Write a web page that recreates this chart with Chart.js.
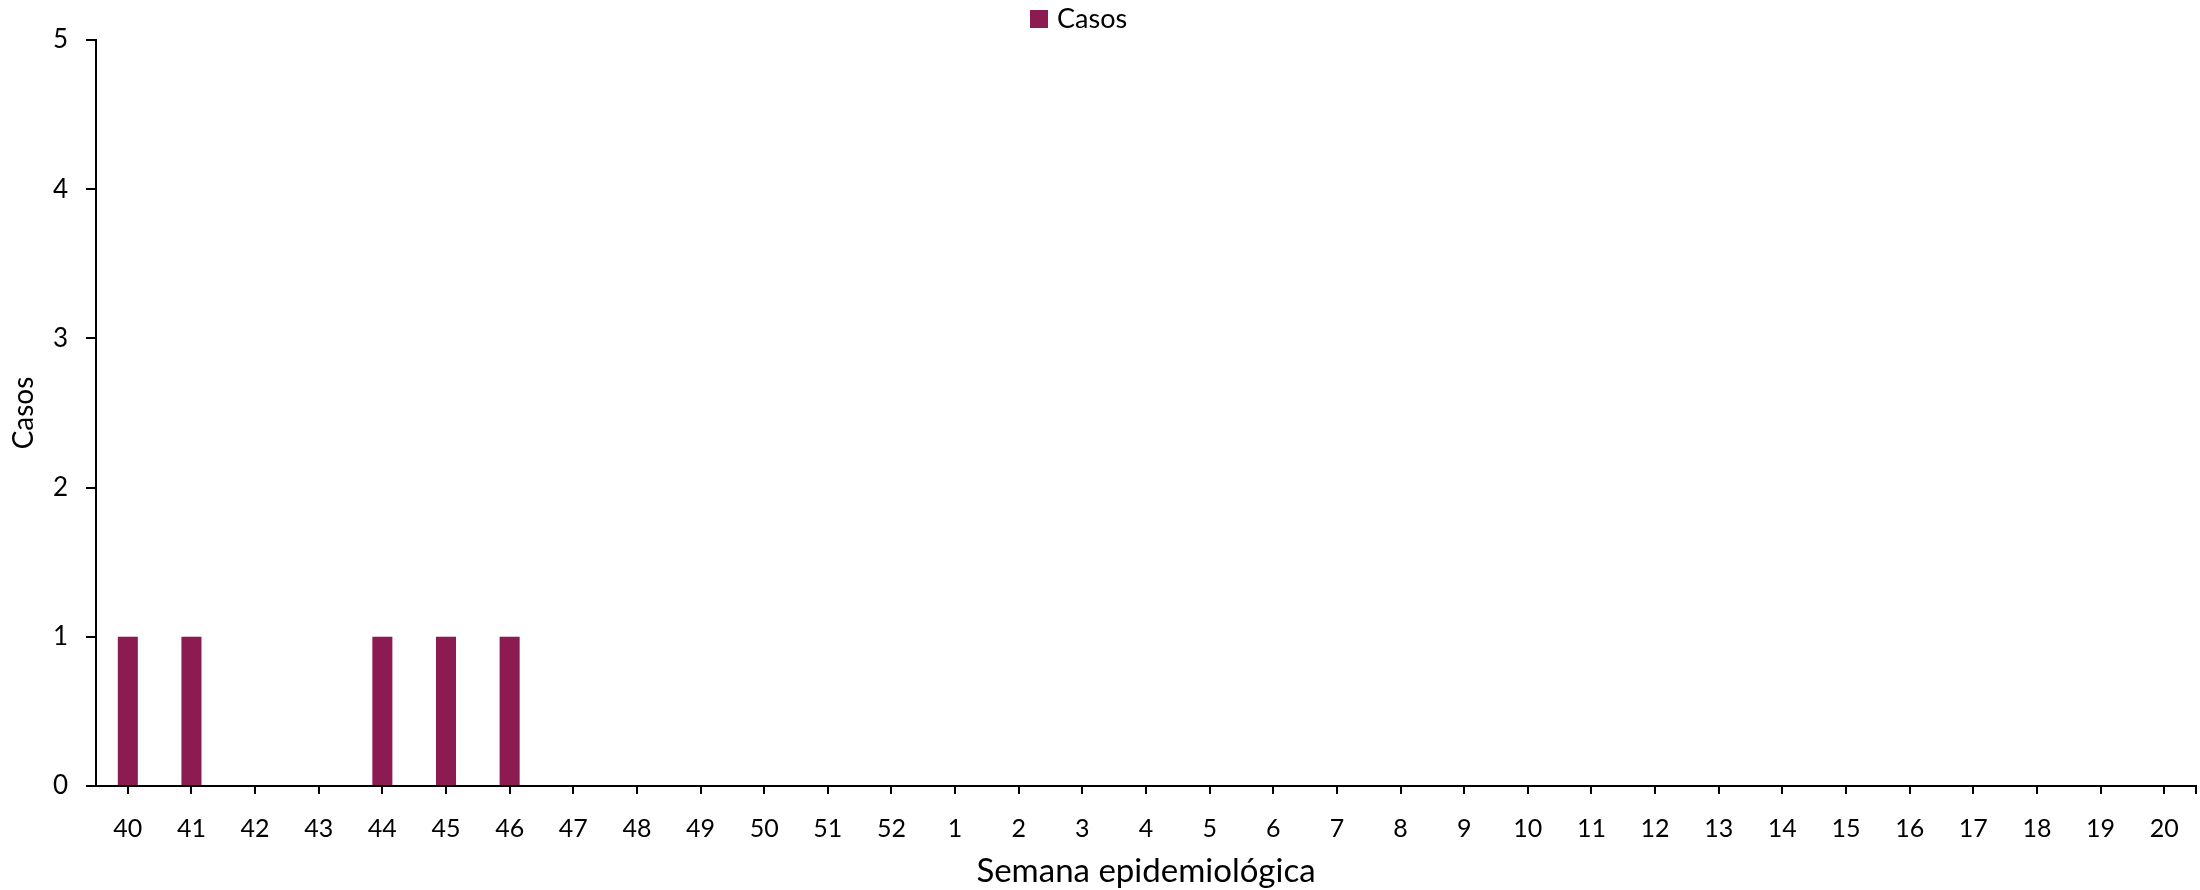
<!DOCTYPE html>
<html>
<head>
<meta charset="utf-8">
<script src="https://cdn.jsdelivr.net/npm/chart.js@4.4.1/dist/chart.umd.min.js"></script>
<style>
  html, body { margin: 0; padding: 0; background: #ffffff; }
  #wrap { width: 2200px; height: 890px; position: relative; }
</style>
</head>
<body>
<div id="wrap"><canvas id="c" width="2200" height="890"></canvas></div>
<script>
const weeks = ['40','41','42','43','44','45','46','47','48','49','50','51','52','1','2','3','4','5','6','7','8','9','10','11','12','13','14','15','16','17','18','19','20'];
const casos = [1,1,0,0,1,1,1,0,0,0,0,0,0,0,0,0,0,0,0,0,0,0,0,0,0,0,0,0,0,0,0,0,0];
const yTicks = [0,1,2,3,4,5];
const seriesName = 'Casos';
const xTitle = 'Semana epidemiológica';
const yTitle = 'Casos';

const FONT = 'Lato, "Open Sans", sans-serif';
const BAR = '#8C1B52';

const customLegend = {
  id: 'customLegend',
  afterDraw(chart) {
    const ctx = chart.ctx;
    const ds = chart.data.datasets[0];
    ctx.save();
    ctx.fillStyle = ds.backgroundColor;
    ctx.fillRect(1030, 10, 18, 18);
    ctx.fillStyle = '#000';
    ctx.font = '27px ' + FONT;
    ctx.textBaseline = 'alphabetic';
    ctx.textAlign = 'left';
    ctx.fillText(ds.label, 1057, 28);
    ctx.restore();
  }
};
const endTick = {
  id: 'endTick',
  afterDraw(chart) {
    const ctx = chart.ctx, a = chart.chartArea;
    ctx.save();
    ctx.strokeStyle = '#000';
    ctx.lineWidth = 2;
    ctx.beginPath();
    ctx.moveTo(a.right, a.bottom);
    ctx.lineTo(a.right, a.bottom + 8);
    ctx.stroke();
    ctx.restore();
  }
};

new Chart(document.getElementById('c'), {
  type: 'bar',
  data: {
    labels: weeks,
    datasets: [{
      label: seriesName,
      data: casos,
      backgroundColor: BAR,
      borderWidth: 0,
      barPercentage: 1,
      categoryPercentage: 0.315
    }]
  },
  options: {
    responsive: false,
    animation: false,
    devicePixelRatio: 1,
    layout: { padding: { top: 40, right: 4, left: 0, bottom: 0 } },
    plugins: { legend: { display: false }, tooltip: { enabled: false } },
    scales: {
      x: {
        offset: true,
        grid: { offset: false, drawOnChartArea: false, drawTicks: true, tickLength: 8, color: '#000', lineWidth: 2 },
        border: { display: true, color: '#000', width: 2 },
        ticks: { color: '#000', font: { family: FONT, size: 25 }, padding: 20, maxRotation: 0, autoSkip: false },
        title: { display: true, text: xTitle, color: '#000', font: { family: FONT, size: 33, lineHeight: 1 }, padding: { top: 0, bottom: 2 } },
        afterFit(s) { s.height = 104; }
      },
      y: {
        min: 0, max: 5,
        afterBuildTicks(s) { s.ticks = yTicks.map(v => ({ value: v })); },
        grid: { drawOnChartArea: false, drawTicks: true, tickLength: 10, color: '#000', lineWidth: 2 },
        border: { display: true, color: '#000', width: 2 },
        ticks: { color: '#000', font: { family: FONT, size: 26 }, padding: 18 },
        title: { display: true, text: yTitle, color: '#000', font: { family: FONT, size: 28 }, padding: { top: 7, bottom: 0 } },
        afterFit(s) { s.width = 96; }
      }
    }
  },
  plugins: [customLegend, endTick]
});
</script>
</body>
</html>
